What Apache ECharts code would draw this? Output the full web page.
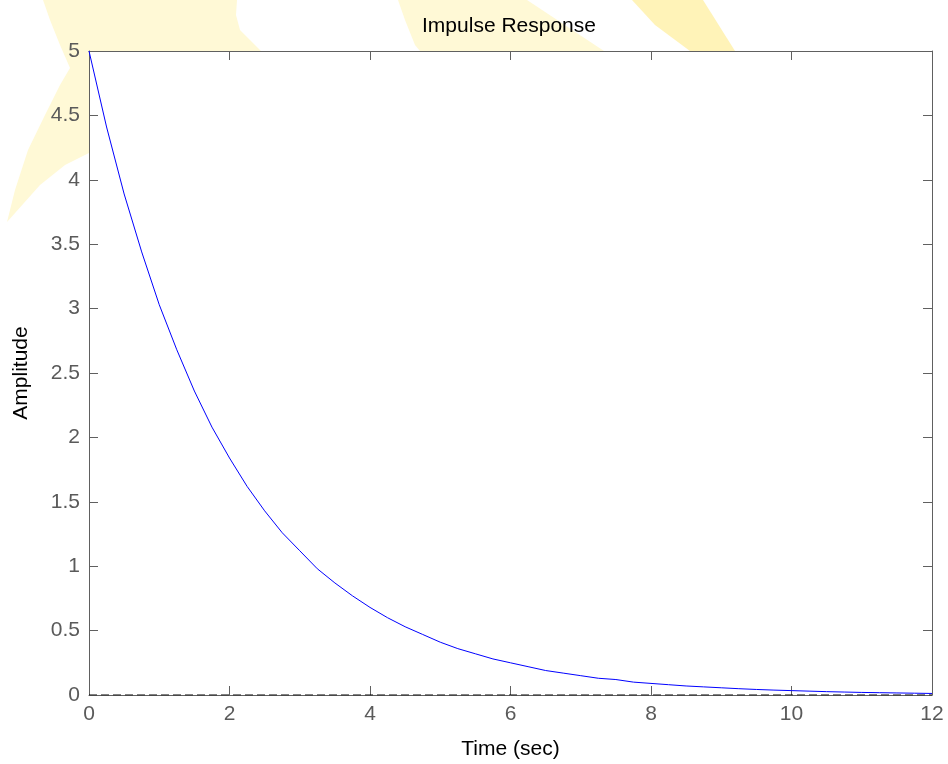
<!DOCTYPE html>
<html>
<head>
<meta charset="utf-8">
<script src="https://cdn.jsdelivr.net/npm/echarts@6/dist/echarts.min.js"></script>
<style>html,body{margin:0;padding:0;background:#fff}#c{width:948px;height:764px}</style>
</head>
<body>
<div id="c"></div>
<script>
// Data
var timeSec = [0,0.25,0.5,0.75,1,1.25,1.5,1.75,2,2.25,2.5,2.75,3,3.25,3.5,3.75,4,4.25,4.5,4.75,5,5.25,5.5,5.75,6,6.25,6.5,6.75,7,7.25,7.5,7.75,8,8.25,8.5,8.75,9,9.25,9.5,9.75,10,10.25,10.5,10.75,11,11.25,11.5,11.75,12];
var amplitude = [5.00,4.41,3.89,3.44,3.03,2.68,2.36,2.08,1.84,1.62,1.43,1.26,1.12,0.98,0.87,0.77,0.68,0.60,0.53,0.47,0.41,0.36,0.32,0.28,0.25,0.22,0.19,0.17,0.15,0.13,0.12,0.10,0.09,0.08,0.07,0.063,0.056,0.049,0.043,0.038,0.034,0.030,0.026,0.023,0.020,0.018,0.016,0.014,0.012];
var zeroLineT = [0,12];
var zeroLineY = [0,0];
var titleText = 'Impulse Response';
var xName = 'Time (sec)';
var yName = 'Amplitude';

var chart = echarts.init(document.getElementById('c'), null, {renderer:'canvas'});
var FONT = '"Liberation Sans", Arial, Helvetica, sans-serif';
var AX = '#606060';
var lbl = {color:'#5a5a5a', fontSize:21, fontFamily:FONT};
function mkX(pos, show){
  return {type:'value', position:pos, min:0, max:12, interval:2,
    axisLine:{show:true, onZero:false, lineStyle:{color:AX, width:1}},
    axisTick:{show:true, inside:true, length:9, lineStyle:{color:AX}},
    axisLabel:Object.assign({show:show, margin:9}, lbl),
    splitLine:{show:false},
    name: show ? xName : '', nameLocation:'middle', nameGap:44,
    nameTextStyle:{color:'#000', fontSize:21, fontFamily:FONT}};
}
function mkY(pos, show){
  return {type:'value', position:pos, min:0, max:5, interval:0.5,
    axisLine:{show:true, onZero:false, lineStyle:{color:AX, width:1}},
    axisTick:{show:true, inside:true, length:9, lineStyle:{color:AX}},
    axisLabel:Object.assign({show:show, margin:9}, lbl),
    splitLine:{show:false},
    name: show ? yName : '', nameLocation:'middle', nameGap:57,
    nameTextStyle:{color:'#000', fontSize:21, fontFamily:FONT}};
}
var Y1 = '#fff9d6', Y2 = '#fff3b8';
chart.setOption({
  animation:false,
  backgroundColor:'#ffffff',
  title:{text:titleText, left:504, top:11, textAlign:'center',
    textStyle:{color:'#000', fontSize:21, fontWeight:'normal', fontFamily:FONT}},
  grid:{left:89, top:51, right:16, bottom:69, containLabel:false, outerBoundsMode:'none'},
  graphic:[
    {type:'polygon', z:-10, silent:true, shape:{points:[[43,0],[237,0],[236,15],[240,30],[250,40],[261,51],[89,51],[89,153],[65,165],[40,185],[7,222],[15,190],[28,150],[45,115],[60,85],[70,68],[60,45],[50,20]]}, style:{fill:Y1}},
    {type:'polygon', z:-10, silent:true, shape:{points:[[398,0],[527,0],[604,51],[420,51],[415,45],[405,20]]}, style:{fill:Y1}},
    {type:'polygon', z:-10, silent:true, shape:{points:[[632,0],[703,0],[735,51],[690,51],[655,25]]}, style:{fill:Y2}}
  ],
  xAxis:[mkX('bottom', true), mkX('top', false)],
  yAxis:[mkY('left', true), mkY('right', false)],
  series:[
    {type:'line', xAxisIndex:1, yAxisIndex:1, data:zeroLineT.map(function(t,i){return [t, zeroLineY[i]];}),
      showSymbol:false, symbol:'none', lineStyle:{color:'#000', width:1, type:[8,4]}, z:3},
    {type:'line', xAxisIndex:0, yAxisIndex:0, data:timeSec.map(function(t,i){return [t, amplitude[i]];}),
      showSymbol:false, symbol:'none', smooth:false, lineStyle:{color:'#0000ff', width:1}, z:4}
  ]
});
</script>
</body>
</html>
